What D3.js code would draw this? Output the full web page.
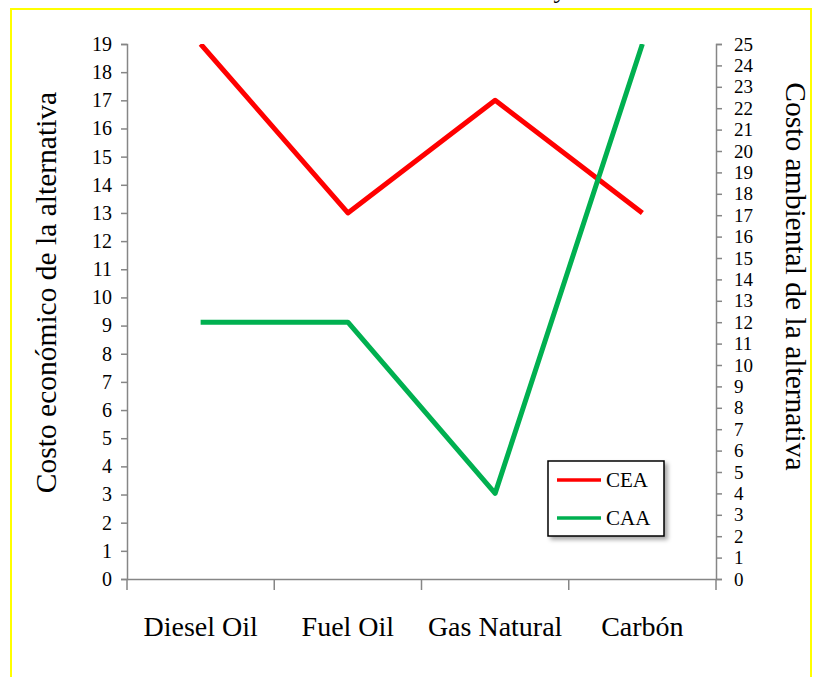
<!DOCTYPE html>
<html>
<head>
<meta charset="utf-8">
<script src="https://cdn.jsdelivr.net/npm/d3@7"></script>
<style>
  html, body { margin: 0; padding: 0; background: #fff; }
  svg { display: block; }
  svg text { font-family: "Liberation Serif", "Times New Roman", serif; fill: #000; }
</style>
</head>
<body>
<script>
// Alternatives compared
const categories = ["Diesel Oil", "Fuel Oil", "Gas Natural", "Carbón"];
// Costo económico de la alternativa (left axis)
const ceaValues = [19, 13, 17, 13];
// Costo ambiental de la alternativa (right axis)
const caaValues = [12, 12, 4, 25];
// Axis tick labels
const leftTicks = d3.range(0, 20);
const rightTicks = d3.range(0, 26);
const seriesNames = ["CEA", "CAA"];

const W = 813, H = 677;
const FONT = '"Liberation Serif", "Times New Roman", serif';
const svg = d3.select("body").append("svg").attr("width", W).attr("height", H);

// Frame
svg.append("rect")
  .attr("x", 11).attr("y", 9).attr("width", 800).attr("height", 680)
  .attr("fill", "none").attr("stroke", "#ffff00").attr("stroke-width", 2);

// Chart title, set above the frame
svg.append("text")
  .attr("x", 560).attr("y", -2).attr("text-anchor", "middle")
  .attr("font-size", 26)
  .text("y");

const plotLeft = 127, plotRight = 716, plotTop = 44, plotBottom = 579;

const x = d3.scaleBand().domain(categories).range([plotLeft, plotRight]);
const yL = d3.scaleLinear().domain([0, 19]).range([plotBottom, plotTop]);
const yR = d3.scaleLinear().domain([0, 25]).range([plotBottom, plotTop]);

const axisColor = "#868686";

// Left axis
const gL = svg.append("g").attr("transform", `translate(${plotLeft},0)`)
  .call(d3.axisLeft(yL).tickValues(leftTicks).tickSizeOuter(0).tickSize(6).tickPadding(9));
// Right axis
const gR = svg.append("g").attr("transform", `translate(${plotRight},0)`)
  .call(d3.axisRight(yR).tickValues(rightTicks).tickSizeOuter(0).tickSize(6).tickPadding(12));
// Category axis
const gB = svg.append("g").attr("transform", `translate(0,${plotBottom})`)
  .call(d3.axisBottom(x).tickSize(0).tickSizeOuter(0).tickPadding(37));

[gL, gR, gB].forEach(g => {
  g.attr("font-family", FONT);
  g.selectAll(".domain").attr("stroke", axisColor).attr("stroke-width", 1.5);
  g.selectAll(".tick line").attr("stroke", axisColor).attr("stroke-width", 1.5);
  g.selectAll("text").attr("fill", "#000");
});
gL.attr("font-size", 20);
gR.attr("font-size", 19);
gB.attr("font-size", 28);

// Tick marks between categories on the bottom axis
const bounds = categories.map(c => x(c)).concat([plotRight]);
gB.selectAll(".sep").data(bounds).join("line")
  .attr("class", "sep")
  .attr("x1", d => d).attr("x2", d => d)
  .attr("y1", 0).attr("y2", 11)
  .attr("stroke", axisColor).attr("stroke-width", 1.5);

// Axis titles
svg.append("text")
  .attr("transform", `translate(56,${(plotTop + plotBottom) / 2 - 19}) rotate(-90)`)
  .attr("text-anchor", "middle").attr("font-size", 29.5)
  .text("Costo económico de la alternativa");
svg.append("text")
  .attr("transform", `translate(786,${(plotTop + plotBottom) / 2 - 35}) rotate(90)`)
  .attr("text-anchor", "middle").attr("font-size", 29.5)
  .text("Costo ambiental de la alternativa");

// Series lines
const cx = c => x(c) + x.bandwidth() / 2;
const lineL = d3.line().x((d, i) => cx(categories[i])).y(d => yL(d));
const lineR = d3.line().x((d, i) => cx(categories[i])).y(d => yR(d));

svg.append("clipPath").attr("id", "plot-clip")
  .append("rect").attr("x", plotLeft).attr("y", plotTop)
  .attr("width", plotRight - plotLeft).attr("height", plotBottom - plotTop);

svg.append("path").datum(ceaValues)
  .attr("d", lineL).attr("fill", "none")
  .attr("stroke", "#ff0000").attr("stroke-width", 5).attr("stroke-linejoin", "round")
  .attr("clip-path", "url(#plot-clip)");
svg.append("path").datum(caaValues)
  .attr("d", lineR).attr("fill", "none")
  .attr("stroke", "#00b050").attr("stroke-width", 5).attr("stroke-linejoin", "round")
  .attr("clip-path", "url(#plot-clip)");

// Legend
const legendColors = ["#ff0000", "#00b050"];
const defs = svg.append("defs");
const f = defs.append("filter").attr("id", "shadow")
  .attr("x", "-20%").attr("y", "-20%").attr("width", "140%").attr("height", "140%");
f.append("feDropShadow").attr("dx", 3).attr("dy", 3).attr("stdDeviation", 2)
  .attr("flood-color", "#000").attr("flood-opacity", 0.35);
const lg = svg.append("g").attr("transform", "translate(548,461)");
lg.append("rect").attr("width", 116).attr("height", 75)
  .attr("fill", "#fff").attr("stroke", "#000").attr("stroke-width", 1.5)
  .attr("filter", "url(#shadow)");
seriesNames.forEach((name, i) => {
  const yy = 19 + i * 38;
  lg.append("line").attr("x1", 9).attr("x2", 53).attr("y1", yy).attr("y2", yy)
    .attr("stroke", legendColors[i]).attr("stroke-width", 3.5);
  lg.append("text").attr("x", 58).attr("y", yy + 7).attr("font-size", 21).text(name);
});
</script>
</body>
</html>
